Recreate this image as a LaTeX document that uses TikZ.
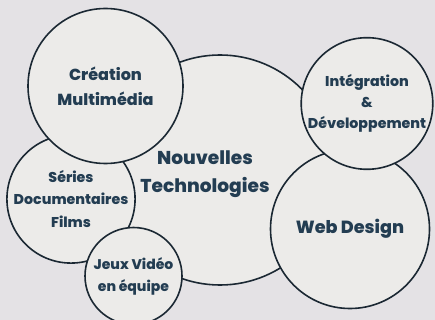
\documentclass[tikz,border=0pt]{standalone}
\usepackage{fontspec}
\setmainfont{Poppins}[BoldFont={Poppins ExtraBold}]
\definecolor{bgcol}{HTML}{E4E2E5}
\definecolor{bubblecol}{HTML}{ECEBE9}
\definecolor{edgecol}{HTML}{1B2833}
\definecolor{textcol}{HTML}{233D52}
\tikzset{
  bubble/.style={circle, draw=edgecol, fill=bubblecol, line width=1.6pt, inner sep=0pt,
    align=center, text=textcol, font=\bfseries\fontsize{14.2}{22.5}\selectfont},
}
\begin{document}
\begin{tikzpicture}[x=1pt,y=-1pt]
\fill[bgcol] (0,0) rectangle (435,320);
\useasboundingbox (0,0) rectangle (435,320);
% centre
\node[bubble, minimum size=230pt] (tech) at (220,170) {};
\node[text=textcol, align=center, font=\bfseries\fontsize{18.6}{28}\selectfont] (techtext) at (205,174) {Nouvelles\\Technologies};
% left side
\node[bubble, minimum size=124pt] (series) at (71,199) {Séries\\Documentaires\\Films};
\node[bubble, minimum size=97pt, font=\bfseries\fontsize{14}{22}\selectfont] (jeux) at (133.5,276) {Jeux Vidéo\\en équipe};
\node[bubble, minimum size=155pt, font=\bfseries\fontsize{16}{25}\selectfont] (creation) at (105.5,86) {Création\\Multimédia};
% right side
\node[bubble, minimum size=159pt, font=\bfseries\fontsize{17.6}{24}\selectfont] (web) at (350,229) {Web Design};
\node[bubble, minimum size=130pt, font=\bfseries\fontsize{14.2}{21}\selectfont] (integ) at (367,103.5) {Intégration\\\&\\Développement};
\end{tikzpicture}
\end{document}
